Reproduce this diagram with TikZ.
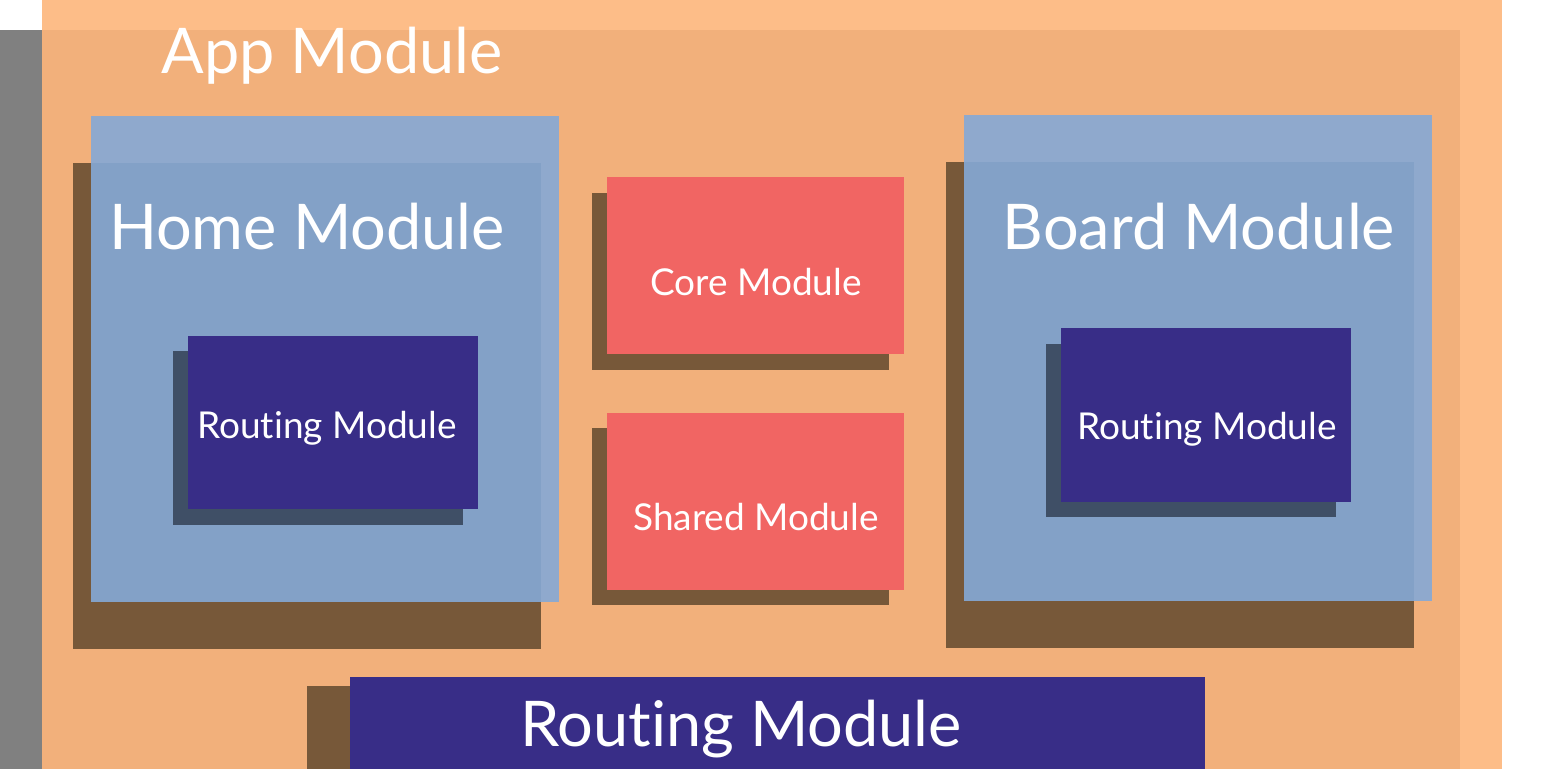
\documentclass[tikz,border=0pt]{standalone}
\usepackage{fontspec}
\setmainfont[Ligatures=NoCommon]{Lato}
\definecolor{appgray}{HTML}{808080}
\definecolor{apptop}{HTML}{FDBD88}
\definecolor{appfill}{HTML}{F2B07B}
\definecolor{modbrown}{HTML}{775839}
\definecolor{modblue}{RGB}{133,169,215}
\definecolor{modred}{HTML}{F16563}
\definecolor{routeblue}{HTML}{382D87}
\definecolor{routeshadow}{HTML}{3F4F66}
\begin{document}
\begin{tikzpicture}[x=1pt,y=-1pt,
  brownshadow/.style={fill=modbrown},
  bluebox/.style={fill=modblue,fill opacity=0.9},
  redbox/.style={fill=modred},
  routebox/.style={fill=routeblue},
  routeback/.style={fill=routeshadow},
  bigtext/.style={text=white,anchor=base,inner sep=0pt,font=\fontsize{63}{63}\selectfont},
  smalltext/.style={text=white,anchor=base,inner sep=0pt,font=\fontsize{37}{37}\selectfont}]
\useasboundingbox (0,0) rectangle (1563,769);
% app module
\fill[appgray] (0,30) rectangle (42,769); \fill[apptop] (42,0) rectangle (1502,769); \fill[appfill] (42,30) rectangle (1460,769);
\node[bigtext] (app) at (332,73) {App Module};
% home module
\fill[brownshadow] (73,163) rectangle (541,649); \fill[bluebox] (91,116) rectangle (559,602);
\node[bigtext] (home) at (307,249) {Home Module};
\fill[routeback] (173,351) rectangle (463,525); \fill[routebox] (188,336) rectangle (478,509);
\node[smalltext] (homerouting) at (327,438) {Routing Module};
% core and shared
\fill[brownshadow] (592,193) rectangle (889,370); \fill[redbox] (607,177) rectangle (904,354);
\node[smalltext] (core) at (756,295) {Core Module};
\fill[brownshadow] (592,428) rectangle (889,605); \fill[redbox] (607,413) rectangle (904,590);
\node[smalltext] (shared) at (756,530) {Shared Module};
% board module
\fill[brownshadow] (946,162) rectangle (1414,648); \fill[bluebox] (964,115) rectangle (1432,601);
\node[bigtext] (board) at (1199,249) {Board Module};
\fill[routeback] (1046,344) rectangle (1336,517); \fill[routebox] (1061,328) rectangle (1351,502);
\node[smalltext] (boardrouting) at (1207,439) {Routing Module};
% app routing
\fill[brownshadow] (307,686) rectangle (1205,769); \fill[routebox] (350,677) rectangle (1205,769);
\node[bigtext] (approuting) at (741,746) {Routing Module};
\end{tikzpicture}
\end{document}
